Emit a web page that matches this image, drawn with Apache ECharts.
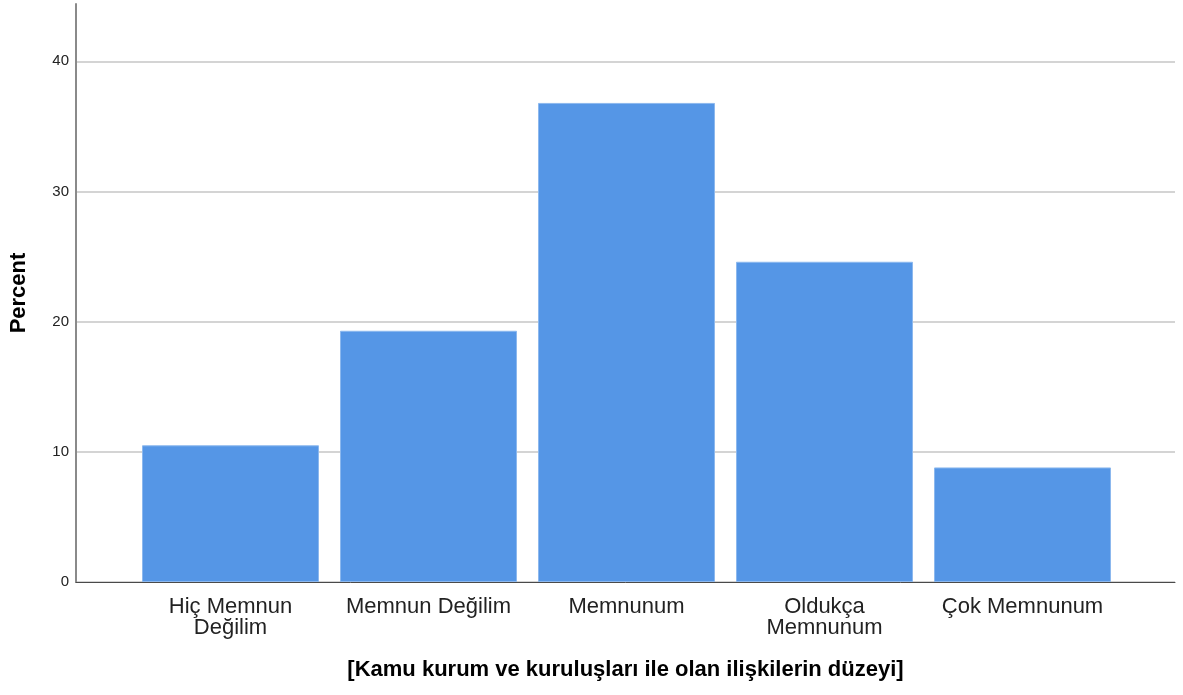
<!DOCTYPE html>
<html>
<head>
<meta charset="utf-8">
<script src="https://cdn.jsdelivr.net/npm/echarts@6/dist/echarts.min.js"></script>
<style>
  html, body { margin: 0; padding: 0; background: #fff; }
  #chart { width: 1183px; height: 695px; }
</style>
</head>
<body>
<div id="chart"></div>
<script>
// Satisfaction levels and their percentages
const categories = ['Hiç Memnun\nDeğilim', 'Memnun Değilim', 'Memnunum', 'Oldukça\nMemnunum', 'Çok Memnunum'];
const percents = [10.5, 19.3, 36.8, 24.6, 8.8];
const yTicks = [0, 10, 20, 30, 40];
const xTitle = '[Kamu kurum ve kuruluşları ile olan ilişkilerin düzeyi]';
const yTitle = 'Percent';

const FONT = '"Liberation Sans", Arial, sans-serif';
const Y_MAX = 44.4;

const chart = echarts.init(document.getElementById('chart'), null, { renderer: 'canvas' });

chart.setOption({
  animation: false,
  backgroundColor: '#ffffff',
  grid: [
    // frame grid: axis lines, gridlines and titles
    { left: 76, right: 8, top: 4, bottom: 113 },
    // bar grid: inset so bars sit away from the axes
    { left: 131.5, right: 61.5, top: 4, bottom: 113 }
  ],
  xAxis: [
    {
      gridIndex: 0, type: 'value', min: 0, max: 1,
      axisLine: { show: true, onZero: false, lineStyle: { color: '#4a4a4a', width: 1 } },
      axisTick: { show: false }, axisLabel: { show: false }, splitLine: { show: false },
      name: xTitle, nameLocation: 'middle', nameGap: 77,
      nameTextStyle: { fontFamily: FONT, fontSize: 22, fontWeight: 'bold', color: '#000' }
    },
    {
      gridIndex: 1, type: 'category', data: categories,
      axisLine: { show: false }, axisTick: { show: false },
      axisLabel: { fontFamily: FONT, fontSize: 22, color: '#222', margin: 14, lineHeight: 21, interval: 0 }
    }
  ],
  yAxis: [
    {
      gridIndex: 0, type: 'value', min: 0, max: Y_MAX, interval: 10,
      axisLine: { show: true, lineStyle: { color: '#8a8a8a', width: 2 } },
      axisTick: { show: false },
      axisLabel: {
        fontFamily: FONT, fontSize: 15, color: '#222', margin: 7,
        formatter: v => (yTicks.includes(v) ? String(v) : '')
      },
      splitLine: { show: true, showMaxLine: false, lineStyle: { color: '#d4d4d4', width: 2 } },
      name: yTitle, nameLocation: 'middle', nameGap: 46, nameRotate: 90,
      nameTextStyle: { fontFamily: FONT, fontSize: 22, fontWeight: 'bold', color: '#000' }
    },
    {
      gridIndex: 1, type: 'value', min: 0, max: Y_MAX,
      show: false, splitLine: { show: false }
    }
  ],
  series: [
    {
      type: 'bar', xAxisIndex: 1, yAxisIndex: 1,
      data: percents, barWidth: 177,
      itemStyle: { color: '#5596e6', borderColor: '#8cb8ee', borderWidth: 1 }
    }
  ]
});
</script>
</body>
</html>
